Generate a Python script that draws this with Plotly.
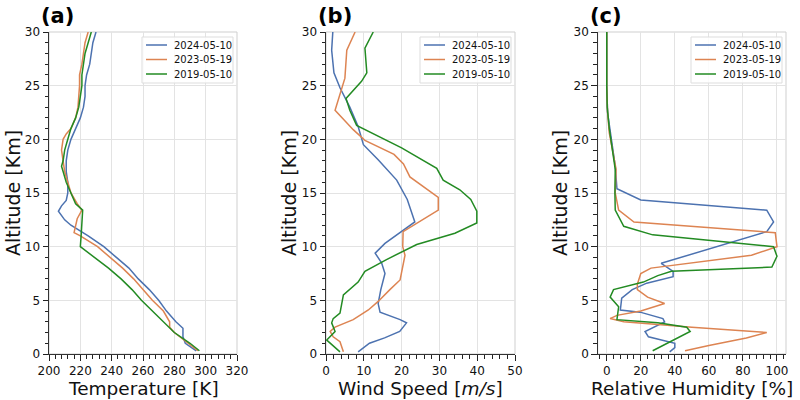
import plotly.graph_objects as go

# ---------------- data ----------------
dates = ["2024-05-10", "2023-05-19", "2019-05-10"]
colors = ["#4c72b0", "#dd8452", "#238b23"]

# Temperature [K]
t_alt_2024 = [0.3, 1.0, 1.6, 2.4, 3.0, 4.0, 5.0, 6.0, 7.0, 8.0, 9.0, 10.0, 11.0, 12.0, 12.5, 13.3, 13.8, 14.3, 15.0, 16.0, 17.0, 18.0, 19.0, 20.0, 21.0, 22.0, 23.0, 24.0, 25.0, 26.0, 27.0, 28.0, 29.0, 30.0]
t_val_2024 = [294, 287, 285.5, 285.5, 281, 275, 270, 264, 257, 251, 243, 235, 225, 214, 210, 206, 208, 211, 212, 212, 211, 211, 212, 214, 217, 220, 222, 223, 223, 224, 226, 227, 228, 230]
t_alt_2023 = [0.3, 1.0, 2.0, 2.5, 3.0, 4.0, 5.0, 6.0, 7.0, 8.0, 9.0, 10.0, 11.0, 11.3, 12.6, 13.4, 14.0, 15.0, 16.0, 17.0, 18.0, 19.0, 20.0, 20.5, 21.0, 22.0, 23.0, 24.0, 25.0, 26.0, 27.0, 28.0, 29.0, 30.0]
t_val_2023 = [295, 289, 280, 277, 277, 273, 266, 260, 254, 247, 239, 231, 220, 216, 218, 221, 218, 214, 212, 210, 209, 208, 209, 211, 214, 217, 218.5, 219, 219.5, 219.5, 221, 222, 223, 225]
t_alt_2019 = [0.3, 1.0, 2.0, 3.0, 4.0, 5.0, 6.0, 7.0, 8.0, 9.0, 10.0, 11.0, 12.0, 13.4, 14.0, 15.0, 16.0, 17.0, 17.5, 18.0, 19.0, 20.0, 21.0, 22.0, 23.0, 24.0, 25.0, 26.0, 27.0, 28.0, 29.0, 30.0]
t_val_2019 = [296, 290, 280, 273, 266, 259, 253, 246, 238, 229, 220, 220.5, 221, 221.5, 217, 214, 211, 209, 208, 209, 210, 212, 214, 217, 219, 220, 221, 221, 222, 223, 225, 227]

# Wind speed [m/s]
w_alt_2024 = [0.2, 1.0, 1.5, 2.1, 2.9, 3.2, 3.9, 4.7, 6.0, 7.5, 8.5, 9.4, 10.3, 11.3, 12.3, 14.4, 16.2, 18.1, 19.5, 21.2, 23.0, 24.8, 26.2, 28.3, 30.0]
w_val_2024 = [8.5, 11.5, 15.5, 19.5, 21.3, 19.6, 14.3, 13.8, 14.5, 15.6, 14.7, 13.0, 15.6, 19.6, 23.5, 21.5, 18.7, 13.8, 9.9, 8.5, 6.3, 3.7, 2.1, 1.5, 1.8]
w_alt_2023 = [0.2, 1.15, 1.6, 2.1, 2.5, 3.2, 4.1, 4.9, 6.0, 6.9, 9.2, 10.0, 11.4, 13.4, 14.6, 16.5, 17.7, 18.6, 19.9, 20.9, 22.7, 23.7, 25.7, 28.3, 30.0]
w_val_2023 = [4.6, 3.7, 1.9, 1.1, 2.4, 7.2, 11.2, 13.8, 16.9, 19.6, 20.9, 20.3, 20.4, 29.7, 29.7, 22.2, 20.5, 18.0, 10.3, 7.2, 2.4, 3.3, 5.0, 5.5, 7.7]
w_alt_2019 = [0.2, 1.3, 2.1, 2.9, 3.3, 3.8, 5.5, 6.7, 7.7, 8.8, 10.2, 11.25, 12.2, 13.3, 14.4, 15.3, 16.2, 17.3, 19.2, 21.3, 22.7, 23.8, 25.4, 26.2, 28.5, 30.0]
w_val_2019 = [3.7, 0.2, 2.4, 1.5, 1.9, 3.7, 4.6, 8.5, 10.3, 16.0, 24.0, 34.1, 39.9, 39.9, 38.3, 35.4, 31.0, 29.3, 20.0, 8.1, 6.3, 5.3, 9.4, 10.8, 10.3, 12.5]

# Relative humidity [%]
h_alt_2024 = [0.2, 0.6, 1.0, 1.6, 2.1, 2.7, 3.0, 3.3, 3.9, 4.1, 5.2, 6.0, 6.6, 7.2, 7.7, 8.45, 11.4, 12.3, 13.4, 14.35, 15.4, 17.5, 20.9, 22.5, 25.0, 30.0]
h_val_2024 = [37, 40, 40, 24.5, 22.5, 30, 34, 33, 19.6, 8, 8.8, 15, 23.5, 39, 39, 32, 94, 98, 94, 20, 6, 5, 2, 0.5, 0, 0]
h_alt_2023 = [0.3, 0.8, 1.5, 2.0, 2.5, 3.0, 3.3, 3.6, 4.0, 4.7, 5.3, 6.0, 6.5, 7.5, 8.0, 9.2, 10.0, 11.3, 12.3, 13.4, 15.0, 17.2, 18.9, 20.6, 22.5, 25.0, 30.0]
h_val_2023 = [46, 60, 82, 94, 50, 10, 2, 6, 20, 34, 24, 18, 18, 20, 26, 85, 100, 99, 16, 7, 5, 5.5, 3.5, 1.5, 0.5, 0, 0]
h_alt_2019 = [0.3, 0.8, 1.3, 2.1, 2.5, 2.9, 3.2, 4.4, 5.3, 6.0, 6.7, 7.3, 7.7, 8.1, 9.1, 10.0, 11.1, 11.9, 13.4, 15.0, 17.2, 19.0, 21.0, 23.0, 25.0, 30.0]
h_val_2019 = [27, 33, 39, 49, 47, 30, 6, 7, 2, 4, 21.5, 30, 38, 97, 100, 98, 27, 10, 5, 4.8, 5, 3.5, 1.5, 0.3, 0, 0]

temp = [(t_val_2024, t_alt_2024), (t_val_2023, t_alt_2023), (t_val_2019, t_alt_2019)]
wind = [(w_val_2024, w_alt_2024), (w_val_2023, w_alt_2023), (w_val_2019, w_alt_2019)]
hum = [(h_val_2024, h_alt_2024), (h_val_2023, h_alt_2023), (h_val_2019, h_alt_2019)]

panels = ["(a)", "(b)", "(c)"]
xtitles = ["Temperature [K]", "Wind Speed [<i>m/s</i>]", "Relative Humidity [%]"]
ytitle = "Altitude [Km]"
xranges = [[200, 320], [0, 50], [-5.3, 105.3]]
xdticks = [20, 10, 20]
xminor = [4, 2, 4]

# ---------------- layout geometry (pixels) ----------------
W, H = 800, 400
plot_x = [(49, 237), (326, 515), (597.7, 786)]
plot_y = (32, 354)

FONT = "DejaVu Sans"
fig = go.Figure()

datasets = [temp, wind, hum]
for p, ds in enumerate(datasets):
    xa = "x" if p == 0 else f"x{p+1}"
    ya = "y" if p == 0 else f"y{p+1}"
    for i, (vals, alts) in enumerate(ds):
        fig.add_trace(go.Scatter(
            x=vals, y=alts, mode="lines", name=dates[i],
            line=dict(color=colors[i], width=1.5),
            xaxis=xa, yaxis=ya, showlegend=False))

axis_common = dict(
    showgrid=True, gridcolor="#e3e3e3", gridwidth=1,
    showline=True, linecolor="#333", linewidth=1,
    ticks="outside", ticklen=5.5, tickwidth=1.2, tickcolor="#222",
    tickfont=dict(family=FONT, size=12, color="#111"),
    zeroline=False, mirror=False, automargin=False,
)

layout = dict(
    width=W, height=H, margin=dict(l=0, r=0, t=0, b=0, autoexpand=False),
    plot_bgcolor="white", paper_bgcolor="white",
    font=dict(family=FONT), showlegend=False,
)
shapes = []
annotations = []
for p in range(3):
    x0, x1 = plot_x[p]
    xd = [x0 / W, x1 / W]
    yd = [1 - plot_y[1] / H, 1 - plot_y[0] / H]
    xk = "xaxis" if p == 0 else f"xaxis{p+1}"
    yk = "yaxis" if p == 0 else f"yaxis{p+1}"
    yname = "y" if p == 0 else f"y{p+1}"
    xname = "x" if p == 0 else f"x{p+1}"
    layout[xk] = dict(axis_common, domain=xd, range=xranges[p], dtick=xdticks[p],
                      tick0=0, anchor=yname,
                      minor=dict(dtick=xminor[p], ticks="outside", ticklen=3.5,
                                 tickcolor="#222", showgrid=False))
    layout[yk] = dict(axis_common, domain=yd, range=[0, 30], dtick=5, tick0=0,
                      anchor=xname,
                      minor=dict(dtick=1, ticks="outside", ticklen=3.5,
                                 tickcolor="#222", showgrid=False))
    # light frame (top/right)
    shapes.append(dict(type="rect", xref="paper", yref="paper",
                       x0=xd[0], x1=xd[1], y0=yd[0], y1=yd[1],
                       line=dict(color="#cfcfcf", width=1), layer="below"))

    # legend box (upper right, inside)
    bx1 = x1 - 4
    bx0 = bx1 - 91
    by0, by1 = 37, 83
    shapes.append(dict(type="rect", xref="paper", yref="paper",
                       x0=bx0 / W, x1=bx1 / W, y0=1 - by1 / H, y1=1 - by0 / H,
                       line=dict(color="#dddddd", width=1),
                       fillcolor="rgba(255,255,255,0.85)", layer="above"))
    for i, d in enumerate(dates):
        ry = 45 + i * 14.5
        shapes.append(dict(type="line", xref="paper", yref="paper",
                           x0=(bx0 + 4) / W, x1=(bx0 + 25) / W,
                           y0=1 - ry / H, y1=1 - ry / H,
                           line=dict(color=colors[i], width=1.5), layer="above"))
        annotations.append(dict(text=d, xref="paper", yref="paper",
                                x=(bx0 + 30) / W, y=1 - ry / H,
                                xanchor="left", yanchor="middle", showarrow=False,
                                font=dict(family=FONT, size=10, color="#111")))

    # panel label
    annotations.append(dict(text=f"<b>{panels[p]}</b>", xref="paper", yref="paper",
                            x=(x0 - 10) / W, y=1 - 16 / H, xanchor="left", yanchor="middle",
                            showarrow=False, font=dict(family=FONT, size=21, color="#000")))
    # x title
    annotations.append(dict(text=xtitles[p], xref="paper", yref="paper",
                            x=(x0 + x1) / 2 / W, y=1 - 388 / H, xanchor="center", yanchor="middle",
                            showarrow=False, font=dict(family=FONT, size=18.5, color="#111")))
    # y title
    ytx = [13, 289, 560][p]
    annotations.append(dict(text=ytitle, xref="paper", yref="paper",
                            x=ytx / W, y=1 - 193 / H, xanchor="center", yanchor="middle",
                            textangle=-90, showarrow=False,
                            font=dict(family=FONT, size=19, color="#111")))

layout["shapes"] = shapes
layout["annotations"] = annotations
fig.update_layout(**layout)
fig.write_html("out.html", config={"displayModeBar": False},
               post_script="document.body.style.margin='0px';document.body.style.padding='0px';")
